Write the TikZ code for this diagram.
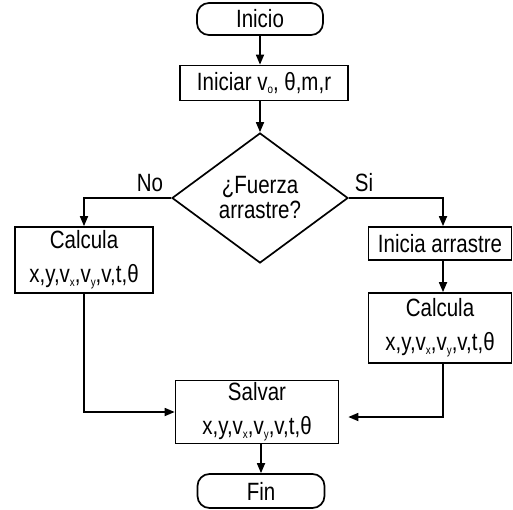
\documentclass[tikz,border=0pt]{standalone}
\usepackage{fontspec}
\setmainfont[FakeStretch=0.82]{Liberation Sans}
\usetikzlibrary{shapes.geometric,arrows.meta}

\newcommand{\subi}[1]{\raisebox{-0.3ex}{\fontsize{12}{12}\selectfont #1}}

\tikzset{
  caja/.style={draw, line width=1.7pt, inner sep=0pt, align=center,
    font=\fontsize{25}{34}\selectfont},
  terminal/.style={caja, rounded corners=12pt},
  decision/.style={caja, diamond, font=\fontsize{25}{25}\selectfont},
  flecha/.style={line width=1.7pt, -{Triangle[length=10pt,width=8pt]}},
  etiqueta/.style={font=\fontsize{25}{28}\selectfont, inner sep=0pt}
}

\begin{document}
\begin{tikzpicture}[x=1pt,y=-1pt]
  \useasboundingbox (0,0) rectangle (513,510);
  % nodos
  \node[terminal, minimum width=126pt, minimum height=32pt] (inicio) at (260,19) {Inicio};
  \node[caja, minimum width=168pt, minimum height=35pt] (iniciar) at (264,83)
    {Iniciar v\subi{o}, θ,m,r};
  \node[decision, minimum width=176pt, minimum height=130pt] (fuerza) at (260,198)
    {¿Fuerza\\arrastre?};
  \node[caja, minimum width=138pt, minimum height=66pt] (calcA) at (84,260)
    {Calcula\\x,y,v\subi{x},v\subi{y},v,t,θ};
  \node[caja, minimum width=143pt, minimum height=33pt] (arrastre) at (440,243.5)
    {Inicia arrastre};
  \node[caja, minimum width=143pt, minimum height=70pt] (calcB) at (440,328)
    {Calcula\\x,y,v\subi{x},v\subi{y},v,t,θ};
  \node[caja, minimum width=163pt, minimum height=63pt] (salvar) at (257,412)
    {Salvar\\x,y,v\subi{x},v\subi{y},v,t,θ};
  \node[terminal, minimum width=127pt, minimum height=34pt] (fin) at (261,491) {Fin};
  \node[etiqueta] (no) at (150,183) {No};
  \node[etiqueta] (si) at (364,183) {Si};
  % conexiones
  \draw[flecha] (inicio) -- (inicio |- iniciar.north);
  \draw[flecha] (iniciar.south -| fuerza.north) -- (fuerza.north);
  \draw[flecha] (fuerza.west) -| (calcA.north);
  \draw[flecha] (fuerza.east) -| ([xshift=3pt]arrastre.north);
  \draw[flecha] ([xshift=3pt]arrastre.south) -- ([xshift=3pt]calcB.north);
  \draw[flecha] (calcA.south) |- (salvar.west);
  \draw[flecha, shorten >=9pt] ([xshift=3pt]calcB.south) |- ([yshift=-5pt]salvar.east);
  \draw[flecha] (salvar.south -| fin.north) -- (fin.north);
\end{tikzpicture}
\end{document}
